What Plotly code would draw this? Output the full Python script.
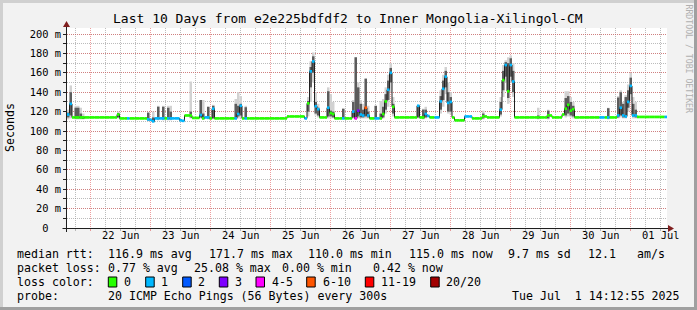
import plotly.graph_objects as go
import pandas as pd

# ---------------- data ----------------
title_text = "Last 10 Days from e2e225bdfdf2 to Inner Mongolia-Xilingol-CM"
start_time = "2025-06-21 14:30"
n_hours = 240  # one RRD step per hour

# median rtt (ms) as runs: each run starts at hour seg_start[k] and lasts until the next start
seg_start = [0, 1, 2, 20, 21, 24, 25, 32, 33, 34, 35, 39, 40, 45, 46, 47, 50, 53, 54, 55, 57, 58, 59,
             67, 68, 69, 70, 71, 72, 88, 95, 96, 97, 98, 99, 100, 101, 104, 105, 106, 107, 110, 111,
             114, 115, 116, 117, 118, 119, 120, 121, 123, 125, 126, 127, 128, 129, 130, 131, 140, 141,
             143, 144, 145, 147, 149, 150, 151, 152, 153, 154, 155, 159, 162, 166, 168, 173, 174, 175,
             176, 177, 178, 179, 192, 194, 198, 199, 200, 201, 202, 203, 213, 215, 216, 217, 220, 221,
             222, 223, 224, 225, 226, 228, 239]
seg_median = [117, 128, 114, 117, 113, 113, 113, 112, 111.5, 110, 113, 113, 113, 111, 110.5, 116, 113.5,
              116.5, 113, 114, 113, 123, 113,
              113, 117.5, 126, 113, 113, 113, 115, 113, 128.5, 161.5, 171.7, 125.5, 122.5, 114, 124,
              118.5, 117.5, 113, 113, 113,
              120, 113, 121, 117, 116, 124, 116, 113, 113, 113, 117.5, 130.5, 142.5, 160, 125, 114, 126,
              114,
              117.5, 115.5, 114, 114, 130.5, 143.5, 156, 129, 130, 114, 111, 115, 113, 115, 114, 122,
              152.5, 168,
              141, 168, 151, 114, 116, 114, 117, 123, 127, 121, 122.5, 114, 114, 114, 114, 114, 116, 124,
              116, 115, 130, 146.5, 116, 114.5, 114.5]
seg_loss = [1, 1, 0, 0, 0, 1, 0, 1, 1, 1, 1, 0, 1, 1, 1, 0, 0, 1, 0, 1, 0, 1, 0,
            1, 1, 1, 0, 1, 0, 0, 1, 0, 1, 1, 1, 1, 0, 1, 0, 0, 0, 1, 0,
            1, 4, 3, 1, 1, 5, 1, 0, 1, 0, 0, 0, 1, 1, 0, 0, 1, 0,
            1, 1, 0, 1, 1, 1, 1, 1, 1, 0, 0, 1, 0, 0, 0, 1, 0, 1,
            0, 1, 1, 0, 0, 0, 0, 0, 0, 0, 0, 0, 1, 0, 1, 0, 1, 1,
            1, 1, 1, 1, 1, 0, 1]

# smoke (spread of the 20 pings): light outer band and dark core band (ms)
smoke_hour = [0, 1, 3, 4, 5, 6, 20, 32, 34, 36, 38, 40, 41, 49, 53, 54, 56, 58, 67, 68, 69, 71,
              96, 97, 98, 99, 100, 104, 105, 106, 110, 114, 115, 116, 117, 118, 119, 120, 123, 125,
              126, 127, 128, 129, 130, 140, 142, 143, 149, 150, 151, 152, 153, 166, 173, 174, 175,
              176, 177, 178, 188, 192, 199, 200, 201, 202, 216, 220, 221, 222, 223, 224, 225, 226, 227]
smoke_lo = [112, 113, 112, 112, 112, 112, 113, 110, 109, 111, 111, 111, 111, 113, 113, 112, 112, 112,
            112, 113, 113, 112,
            115, 130, 150, 116, 114, 113, 113, 113, 112, 113, 112, 113, 113, 113, 113, 113, 112, 112,
            113, 118, 125, 140, 115, 113, 112, 113, 118, 125, 138, 118, 117, 112, 115, 135, 150,
            128, 150, 135, 112, 112, 114, 115, 114, 113, 112, 113, 114, 113, 113, 120, 132, 113, 113]
smoke_hi = [122, 147, 126, 126, 124, 118, 120, 119, 120, 126, 126, 126, 126, 151, 132, 132, 125, 127,
            133, 140, 136, 126,
            135, 172, 181, 140, 128, 145, 138, 130, 123, 132, 176, 150, 132, 128, 154, 126, 126, 131,
            133, 145, 158, 170, 135, 126, 123, 125, 142, 158, 166, 150, 140, 121, 135, 168, 173,
            176, 178, 170, 124, 122, 141, 141, 135, 130, 124, 136, 142, 130, 137, 148, 160, 135, 130]
core_lo = [114, 116, 113, 113, 113, 113, 114, 111, 110, 112, 112, 112, 112, 114, 114, 113, 113, 113,
           113, 115, 116, 113,
           120, 145, 160, 118, 116, 115, 115, 114, 113, 114, 113, 115, 114, 114, 115, 114, 113, 113,
           114, 122, 132, 150, 118, 114, 113, 114, 122, 132, 145, 120, 120, 113, 117, 142, 156,
           134, 156, 140, 113, 113, 116, 118, 116, 115, 113, 114, 116, 114, 114, 124, 138, 115, 114]
core_hi = [119, 140, 124, 124, 118, 115, 118.5, 119, 114, 125, 125, 124, 120, 120, 132, 118, 125, 126,
           128, 126, 128, 124.5,
           131, 166, 177, 130, 124, 141, 121, 120, 123, 130, 176, 145, 128, 122, 154, 120, 126, 118,
           125, 138, 152, 165, 128, 126, 122, 122, 136, 152, 162, 140, 135, 118, 130, 162, 171,
           170, 175, 162, 116, 121, 134, 136, 130, 126, 123.5, 134.5, 140, 128, 135, 142, 155, 128, 122]

loss_labels = ["0", "1", "2", "3", "4-5", "6-10", "11-19", "20/20"]
loss_colors = ["#26ff00", "#00b8ff", "#0059ff", "#7e00ff", "#ff00ff", "#ff5500", "#ff0000", "#a10000"]

y_tick_values = [0, 20, 40, 60, 80, 100, 120, 140, 160, 180, 200]
y_tick_labels = ["0\u00a0\u00a0", "20 m", "40 m", "60 m", "80 m", "100 m", "120 m", "140 m",
                 "160 m", "180 m", "200 m"]
day_label_times = ["2025-06-22 12:00", "2025-06-23 12:00", "2025-06-24 12:00", "2025-06-25 12:00",
                   "2025-06-26 12:00", "2025-06-27 12:00", "2025-06-28 12:00", "2025-06-29 12:00",
                   "2025-06-30 12:00", "2025-07-01 12:00"]
day_labels = ["22 Jun", "23 Jun", "24 Jun", "25 Jun", "26 Jun", "27 Jun", "28 Jun", "29 Jun",
              "30 Jun", "01 Jul"]

rtt_caption = "median rtt:"
rtt_items = ["116.9 ms avg", "171.7 ms max", "110.0 ms min", "115.0 ms now", "9.7 ms sd", "12.1", "am/s"]
loss_caption = "packet loss:"
loss_items = ["0.77 % avg", "25.08 % max", "0.00 % min", "0.42 % now"]
color_caption = "loss color:"
probe_caption = "probe:"
probe_text = "20 ICMP Echo Pings (56 Bytes) every 300s"
stamp_text = "Tue Jul \u00a01 14:12:55 2025"
credit_text = "RRDTOOL / TOBI OETIKER"

# ---------------- layout positions (pixels) ----------------
rtt_x = [107.3, 207.7, 307.3, 408.3, 507.3, 586.7, 635.7]
loss_x = [107.3, 192.5, 281.0, 372.3]
square_x = [108.3, 145.7, 182.7, 219.3, 256.0, 306.7, 365.3, 430.7]
label_x = [122.7, 160.0, 197.3, 234.3, 270.7, 321.7, 380.0, 445.3]

W, H = 697, 310
PL, PR, PT, PB = 67, 667, 28, 228


def ax(px):
    return (px - PL) / (PR - PL)


def ay(py):
    return (PB - py) / (PB - PT)


# ---------------- build series ----------------
median, loss = [], []
bounds = seg_start + [n_hours]
for k in range(len(seg_start)):
    for h in range(bounds[k], bounds[k + 1]):
        median.append(seg_median[k])
        loss.append(seg_loss[k])

t0 = pd.Timestamp(start_time)
times = [t0 + pd.Timedelta(hours=h) for h in range(n_hours + 1)]
mids = [t0 + pd.Timedelta(minutes=60 * h + 30) for h in range(n_hours)]

fig = go.Figure()

# smoke
fig.add_trace(go.Bar(x=[mids[h] for h in smoke_hour],
                     y=[hi - lo for lo, hi in zip(smoke_lo, smoke_hi)], base=smoke_lo,
                     width=3600000, marker=dict(color="#d2d2d2", line=dict(width=0)),
                     hoverinfo="skip"))
fig.add_trace(go.Bar(x=[mids[h] for h in smoke_hour],
                     y=[hi - lo for lo, hi in zip(core_lo, core_hi)], base=core_lo,
                     width=3600000, marker=dict(color="#5c5c5c", line=dict(width=0)),
                     hoverinfo="skip"))

# thin median line
fig.add_trace(go.Scatter(x=times, y=median + [median[-1]], mode="lines", line_shape="hv",
                         line=dict(color="#202020", width=1), hoverinfo="skip"))

# loss-coloured median pieces
for b, col in enumerate(loss_colors):
    xs, ys = [], []
    for h in range(n_hours):
        if loss[h] == b:
            xs += [times[h], times[h + 1], None]
            ys += [median[h], median[h], None]
    if xs:
        fig.add_trace(go.Scatter(x=xs, y=ys, mode="lines", line=dict(color=col, width=2.7),
                                 hoverinfo="skip", connectgaps=False))

# invisible trace to carry the label axis
fig.add_trace(go.Scatter(x=[times[0], times[-1]], y=[0, 0], xaxis="x2", mode="lines",
                         opacity=0, hoverinfo="skip"))

MAJ = "rgba(222,79,79,0.55)"
MIN = "rgba(143,143,143,0.6)"
FONT = "DejaVu Sans Mono"

fig.update_layout(
    width=W, height=H, margin=dict(l=PL, r=W - PR, t=PT, b=H - PB),
    paper_bgcolor="#f2f2f2", plot_bgcolor="#ffffff", barmode="overlay", showlegend=False,
    font=dict(family=FONT, color="#000000", size=10.4),
    xaxis=dict(type="date", range=[times[0], times[-1]], showgrid=True, gridcolor=MAJ,
               griddash="1px,1px", gridwidth=1, tick0="2025-06-22 00:00", dtick=86400000,
               ticks="outside", ticklen=2, tickcolor=MAJ, showticklabels=False, zeroline=False,
               showline=False,
               minor=dict(tick0="2025-06-22 00:00", dtick=21600000, showgrid=True, gridcolor=MIN,
                          griddash="1px,1px", ticks="outside", ticklen=2, tickcolor=MIN)),
    xaxis2=dict(type="date", overlaying="x", anchor="y", side="bottom",
                range=[times[0], times[-1]], tickmode="array", tickvals=day_label_times,
                ticktext=day_labels, showgrid=False, ticks="", zeroline=False, showline=False,
                tickfont=dict(size=10.4, family=FONT)),
    yaxis=dict(range=[0, 200 * 206.2 / 200], tickmode="array", tickvals=y_tick_values,
               ticktext=y_tick_labels, showgrid=True, gridcolor=MAJ, griddash="1px,1px",
               ticks="outside", ticklen=3, tickcolor="#1f1f1f", zeroline=False, showline=False,
               tickfont=dict(size=10.4, family=FONT),
               minor=dict(tick0=0, dtick=10, showgrid=True, gridcolor=MIN, griddash="1px,1px",
                          ticks="outside", ticklen=3, tickcolor="#1f1f1f")),
)

shapes = []
# frame
shapes.append(dict(type="rect", xref="paper", yref="paper", x0=ax(0), x1=ax(W), y0=ay(0), y1=ay(3),
                   fillcolor="#d0d0d0", line=dict(width=0), layer="below"))
shapes.append(dict(type="rect", xref="paper", yref="paper", x0=ax(0), x1=ax(3), y0=ay(0), y1=ay(H),
                   fillcolor="#d0d0d0", line=dict(width=0), layer="below"))
shapes.append(dict(type="rect", xref="paper", yref="paper", x0=ax(0), x1=ax(W), y0=ay(H - 3), y1=ay(H),
                   fillcolor="#a0a0a0", line=dict(width=0), layer="below"))
shapes.append(dict(type="rect", xref="paper", yref="paper", x0=ax(W - 3), x1=ax(W), y0=ay(0), y1=ay(H),
                   fillcolor="#a0a0a0", line=dict(width=0), layer="below"))
# axes lines and arrows
shapes.append(dict(type="line", xref="paper", yref="paper", x0=ax(62.5), x1=ax(669), y0=ay(228.5),
                   y1=ay(228.5), line=dict(color="#1f1f1f", width=1)))
shapes.append(dict(type="line", xref="paper", yref="paper", x0=ax(66.5), x1=ax(66.5), y0=ay(232),
                   y1=ay(25), line=dict(color="#1f1f1f", width=1)))
shapes.append(dict(type="path", xref="paper", yref="paper",
                   path=f"M {ax(668)} {ay(225)} L {ax(674)} {ay(228.5)} L {ax(668)} {ay(232)} Z",
                   fillcolor="#801f1f", line=dict(width=0)))
shapes.append(dict(type="path", xref="paper", yref="paper",
                   path=f"M {ax(63)} {ay(27)} L {ax(66.5)} {ay(21)} L {ax(70)} {ay(27)} Z",
                   fillcolor="#801f1f", line=dict(width=0)))
# loss colour squares
for sx, col in zip(square_x, loss_colors):
    shapes.append(dict(type="rect", xref="paper", yref="paper", x0=ax(sx), x1=ax(sx + 8.5),
                       y0=ay(277), y1=ay(287), fillcolor=col, line=dict(color="#000000", width=1)))
fig.update_layout(shapes=shapes)

LEG = 11.6
ann = []


def text(px, py, s, size=LEG, anchor="left", color="#000000", angle=0):
    ann.append(dict(xref="paper", yref="paper", x=ax(px), y=ay(py), text=s, showarrow=False,
                    xanchor=anchor, yanchor="middle", textangle=angle,
                    font=dict(family=FONT, size=size, color=color), borderpad=0))


text(347.5, 18.5, title_text, size=13, anchor="center")
text(10, 128, "Seconds", size=11.6, anchor="center", angle=-90)
text(688.5, 59, credit_text, size=8.2, anchor="center", color="#b0b0b0", angle=90)

text(16, 253.5, rtt_caption)
for px, s in zip(rtt_x, rtt_items):
    text(px, 253.5, s)
text(16, 267.5, loss_caption)
for px, s in zip(loss_x, loss_items):
    text(px, 267.5, s)
text(16, 281.5, color_caption)
for px, s in zip(label_x, loss_labels):
    text(px, 281.5, s)
text(16, 295.5, probe_caption)
text(107.3, 295.5, probe_text)
text(680.5, 295.5, stamp_text, anchor="right")

fig.update_layout(annotations=ann)
fig.write_html("out.html")
